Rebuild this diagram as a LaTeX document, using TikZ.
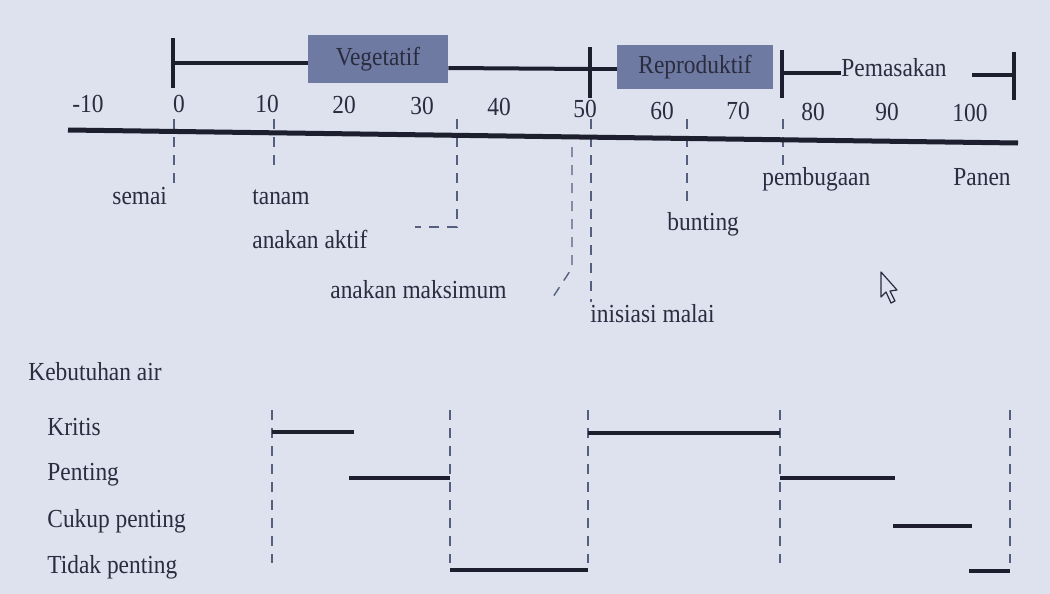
\documentclass[tikz,border=0pt]{standalone}
\usepackage{fontspec}
\setmainfont{Liberation Serif}
\usepackage{graphicx}
\definecolor{bg}{HTML}{DDE2EE}
\definecolor{ink}{HTML}{2A2C40}
\definecolor{thick}{HTML}{1E1F2E}
\definecolor{dash}{HTML}{55607F}
\definecolor{boxc}{HTML}{6E7AA2}
\newcommand\cnd[1]{\scalebox{0.9}[1]{#1}}
\tikzset{
  lbl/.style={inner sep=0pt, text=ink, font=\fontsize{13}{15}\selectfont, anchor=base west},
  num/.style={inner sep=0pt, text=ink, font=\fontsize{13}{15}\selectfont, anchor=base},
  phasebox/.style={fill=boxc, draw=none, inner sep=0pt, minimum width=70pt, minimum height=24pt, text=ink, font=\fontsize{13}{15}\selectfont},
  axisline/.style={draw=thick, line width=2.5pt},
  barline/.style={draw=thick, line width=2pt},
  level/.style={draw=thick, line width=2pt},
  guide/.style={draw=dash, line width=0.7pt, dash pattern=on 5pt off 4pt},
}
\begin{document}
\begin{tikzpicture}[x=0.5pt, y=-0.5pt]
\fill[bg] (0,0) rectangle (1050,594);
\useasboundingbox (0,0) rectangle (1050,594);

% ---- phase bar ----
\node[phasebox, minimum width=70pt, minimum height=24pt] (veg) at (378,59) {\cnd{Vegetatif}};
\node[phasebox, minimum width=78pt, minimum height=22pt] (rep) at (695,67) {\cnd{Reproduktif}};
\node[inner sep=0pt, text=ink, font=\fontsize{13}{15}\selectfont, anchor=west] (pem) at (841,68) {\cnd{Pemasakan}};
\coordinate (b0t) at (173,38); \coordinate (b0b) at (173,88);
\coordinate (b0) at (173,63);
\coordinate (b50t) at (590,47); \coordinate (b50b) at (590,98);
\coordinate (b50) at (590,69);
\coordinate (b75t) at (782,50); \coordinate (b75b) at (782,98);
\coordinate (b75) at (782,73);
\coordinate (bendt) at (1014,52); \coordinate (bendb) at (1014,100);
\coordinate (bend) at (1014,75);
\coordinate (pre) at (972,75);
\draw[barline] (b0t) -- (b0b);
\draw[barline] (b0) -- (veg.west |- b0);
\draw[barline] (veg.east |- 0,68) -- (b50);
\draw[barline] (b50) -- (rep.west |- b50);
\draw[barline] (b50t) -- (b50b);
\draw[barline] (b75t) -- (b75b);
\draw[barline] (b75) -- (pem.west |- b75);
\draw[barline] (pre) -- (bend);
\draw[barline] (bendt) -- (bendb);

% ---- numbers ----
\foreach \t/\x/\y in {-10/88/112, 0/179/112, 10/267/112, 20/344/113, 30/422/114, 40/499/115, 50/585/117, 60/662/119, 70/738/119, 80/813/120, 90/887/120, 100/970/121}
  \node[num] (n\t) at (\x,\y) {\cnd{\t}};

% ---- guides ----
\coordinate (g0t) at (174,119); \coordinate (g0b) at (174,183);
\coordinate (g10t) at (274,119); \coordinate (g10b) at (274,172);
\coordinate (g33t) at (457,119); \coordinate (g33c) at (457,227); \coordinate (g33e) at (415,227);
\coordinate (g48t) at (572,147); \coordinate (g48c) at (572,268); \coordinate (g48e) at (553,297);
\coordinate (g50t) at (591,119); \coordinate (g50b) at (591,302);
\coordinate (g64t) at (687,119); \coordinate (g64b) at (687,203);
\coordinate (g75t) at (783,119); \coordinate (g75b) at (783,170);
\draw[guide] (g0t) -- (g0b);
\draw[guide] (g10t) -- (g10b);
\draw[guide] (g33t) -- (g33c) -- (g33e);
\draw[guide] (g48t) -- (g48c) -- (g48e);
\draw[guide] (g50t) -- (g50b);
\draw[guide] (g64t) -- (g64b);
\draw[guide] (g75t) -- (g75b);

% ---- main axis ----
\coordinate (ax0) at (68,130);
\coordinate (ax1) at (1018,143);
\draw[axisline] (ax0) -- (ax1);

% ---- stage labels ----
\node[lbl] (semai) at (112,204) {\cnd{semai}};
\node[lbl] (tanam) at (252,204) {\cnd{tanam}};
\node[lbl] (aktif) at (252,248) {\cnd{anakan aktif}};
\node[lbl] (maks) at (330,298) {\cnd{anakan maksimum}};
\node[lbl] (inis) at (590,322) {\cnd{inisiasi malai}};
\node[lbl] (bunt) at (667,230) {\cnd{bunting}};
\node[lbl] (pemb) at (762,185) {\cnd{pembugaan}};
\node[lbl] (panen) at (953,185) {\cnd{Panen}};

% ---- water need ----
\node[lbl] (keb) at (28,380) {\cnd{Kebutuhan air}};
\node[lbl] (kri) at (47,435) {\cnd{Kritis}};
\node[lbl] (pen) at (47,480) {\cnd{Penting}};
\node[lbl] (cuk) at (47,527) {\cnd{Cukup penting}};
\node[lbl] (tid) at (47,573) {\cnd{Tidak penting}};

\foreach \n/\x in {a/272, b/450, c/588, d/780, e/1010}{
  \coordinate (v\n t) at (\x,410); \coordinate (v\n b) at (\x,563);
  \draw[guide] (v\n t) -- (v\n b);
}
\coordinate (k1) at (272,432); \coordinate (k2) at (354,432);
\coordinate (p1) at (349,478); \coordinate (p2) at (450,478);
\coordinate (t1) at (450,570); \coordinate (t2) at (588,570);
\coordinate (k3) at (588,433); \coordinate (k4) at (780,433);
\coordinate (p3) at (780,478); \coordinate (p4) at (895,478);
\coordinate (c1) at (893,526); \coordinate (c2) at (972,526);
\coordinate (t3) at (969,571); \coordinate (t4) at (1010,571);
\draw[level] (k1) -- (k2);
\draw[level] (p1) -- (p2);
\draw[level] (t1) -- (t2);
\draw[level] (k3) -- (k4);
\draw[level] (p3) -- (p4);
\draw[level] (c1) -- (c2);
\draw[level] (t3) -- (t4);

% ---- mouse pointer ----
\draw[ink, line width=0.6pt, line join=round, fill=bg]
  (881,272) -- (881,297) -- (886,292) -- (891,303) -- (895,301) -- (890,291) -- (897,290) -- cycle;
\end{tikzpicture}
\end{document}
